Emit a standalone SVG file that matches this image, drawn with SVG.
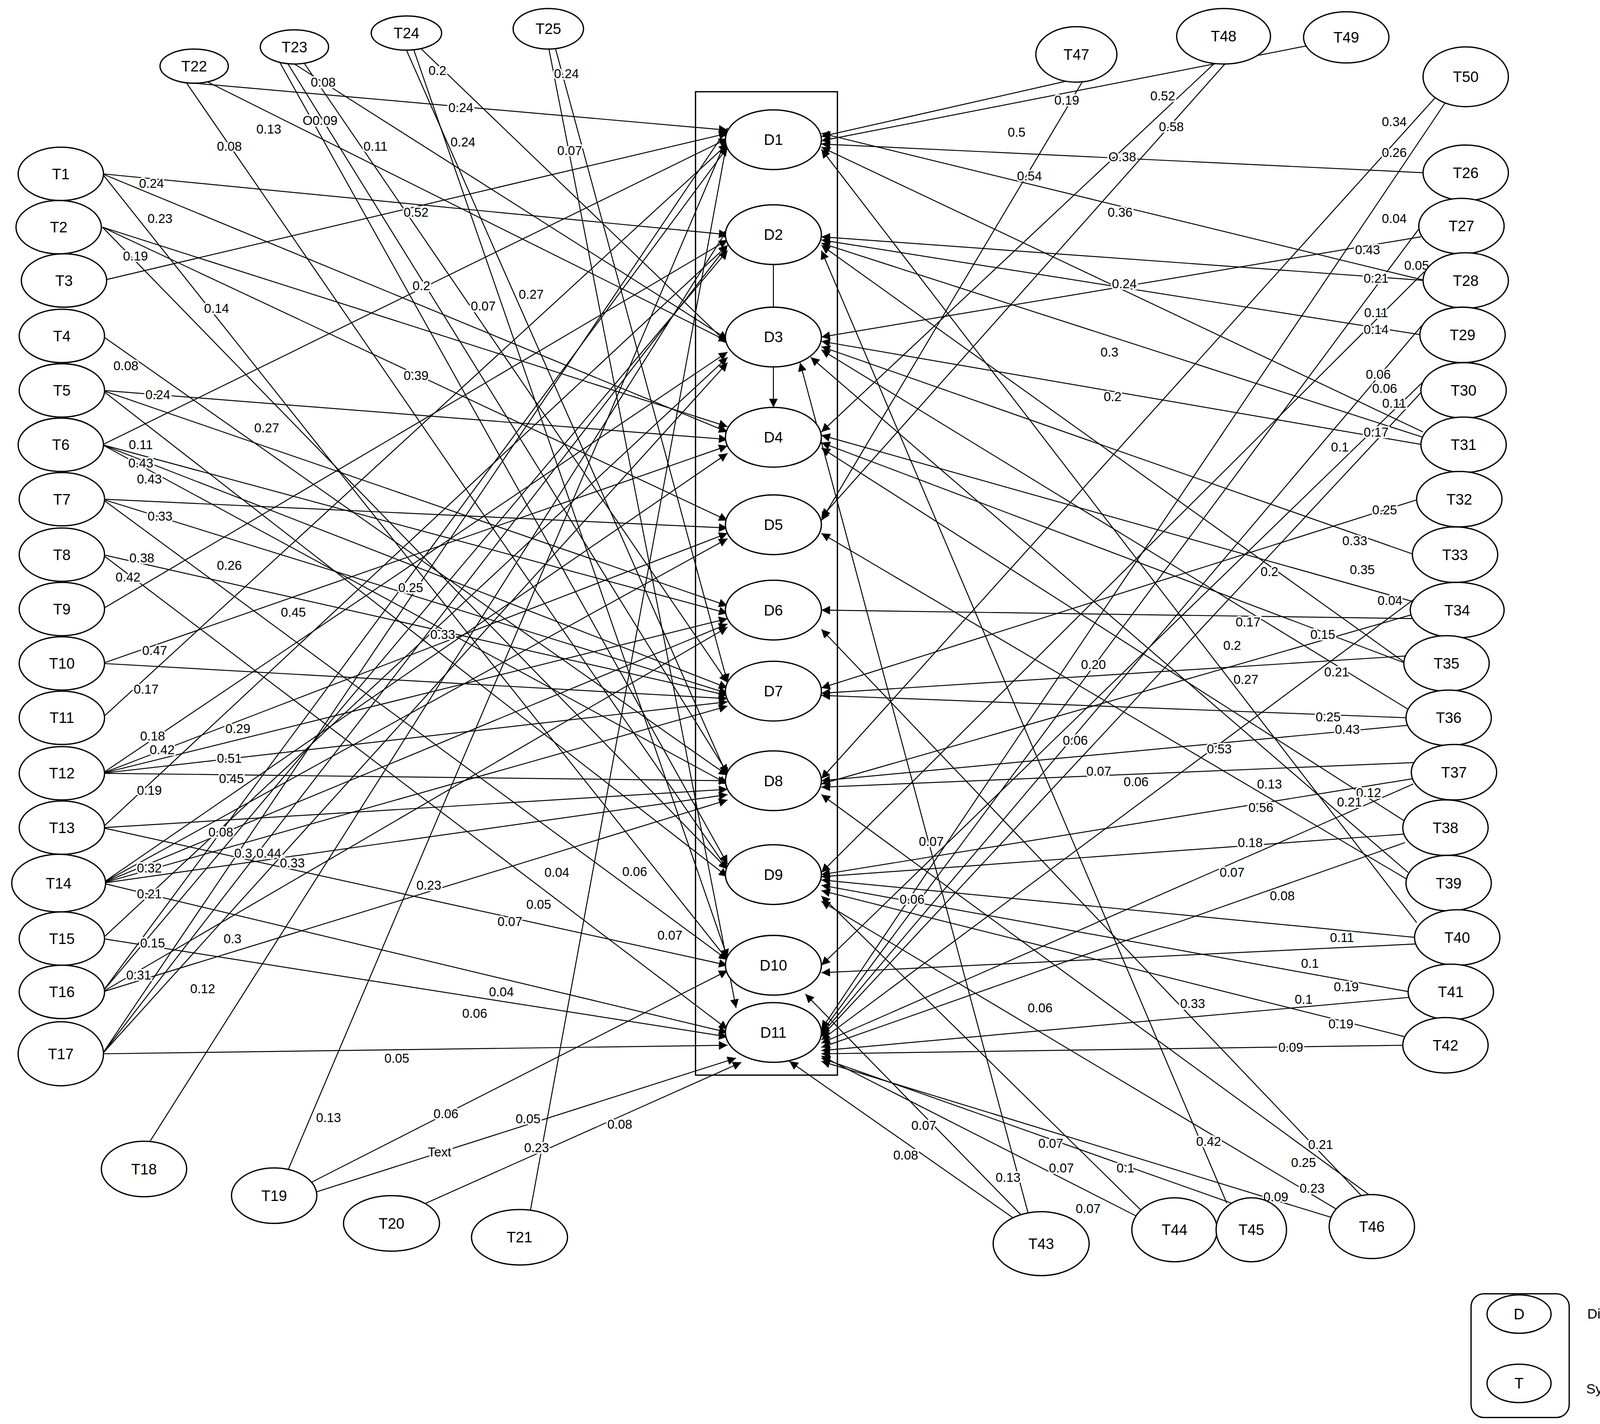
<svg xmlns="http://www.w3.org/2000/svg" width="4282" height="3646" viewBox="0 0 4282 3646">
<style>
.n{fill:#fff;stroke:#000;stroke-width:1.2}
.t{font-family:"Liberation Sans",Arial,sans-serif;font-size:14px;text-anchor:middle;dominant-baseline:central;fill:#000}
.g{font-family:"Liberation Sans",Arial,sans-serif;font-size:13px;dominant-baseline:central;fill:#000}
.l{font-family:"Liberation Sans",Arial,sans-serif;font-size:12px;text-anchor:middle;dominant-baseline:central;fill:#000;stroke:#fff;stroke-width:3px;paint-order:stroke}
#E line{stroke:#000;stroke-width:0.9;marker-end:url(#a)}
</style>
<defs><marker id="a" viewBox="0 0 10 10" refX="10" refY="5" markerWidth="9" markerHeight="9" orient="auto"><path d="M0,0L10,5L0,10z" fill="#000"/></marker></defs>
<rect width="4282" height="3646" fill="#fff"/>
<g transform="scale(2.7309)">
<rect x="652" y="86" width="133" height="922" fill="none" stroke="#000" stroke-width="1.2"/>
<g id="E">
<line x1="96" y1="163" x2="682" y2="220"/><line x1="96" y1="163" x2="682" y2="405"/><line x1="96" y1="163" x2="682" y2="900"/>
<line x1="96" y1="213" x2="682" y2="488"/><line x1="96" y1="213" x2="682" y2="400"/><line x1="96" y1="213" x2="682" y2="815"/>
<line x1="96" y1="263" x2="682" y2="125"/>
<line x1="96" y1="315" x2="682" y2="727"/>
<line x1="96" y1="366" x2="682" y2="412"/><line x1="96" y1="366" x2="682" y2="822"/><line x1="96" y1="366" x2="682" y2="568"/>
<line x1="96" y1="417" x2="682" y2="130"/><line x1="96" y1="417" x2="682" y2="735"/><line x1="96" y1="417" x2="682" y2="575"/><line x1="96" y1="417" x2="682" y2="645"/>
<line x1="96" y1="468" x2="682" y2="495"/><line x1="96" y1="468" x2="682" y2="650"/><line x1="96" y1="468" x2="682" y2="900"/>
<line x1="96" y1="520" x2="682" y2="652"/><line x1="96" y1="520" x2="682" y2="965"/>
<line x1="96" y1="571" x2="682" y2="225"/>
<line x1="96" y1="622" x2="682" y2="418"/><line x1="96" y1="622" x2="682" y2="655"/>
<line x1="96" y1="673" x2="682" y2="135"/>
<line x1="96" y1="725" x2="682" y2="330"/><line x1="96" y1="725" x2="682" y2="580"/><line x1="96" y1="725" x2="682" y2="500"/><line x1="96" y1="725" x2="682" y2="658"/><line x1="96" y1="725" x2="682" y2="732"/>
<line x1="96" y1="776" x2="682" y2="230"/><line x1="96" y1="776" x2="682" y2="905"/><line x1="96" y1="776" x2="682" y2="740"/>
<line x1="96" y1="828" x2="682" y2="745"/><line x1="96" y1="828" x2="682" y2="662"/><line x1="96" y1="828" x2="682" y2="585"/><line x1="96" y1="828" x2="682" y2="968"/><line x1="96" y1="828" x2="682" y2="505"/><line x1="96" y1="828" x2="682" y2="425"/>
<line x1="96" y1="880" x2="682" y2="335"/><line x1="96" y1="880" x2="682" y2="972"/>
<line x1="96" y1="930" x2="682" y2="138"/><line x1="96" y1="930" x2="682" y2="588"/><line x1="96" y1="930" x2="682" y2="750"/><line x1="96" y1="930" x2="682" y2="235"/>
<line x1="96" y1="988" x2="682" y2="980"/><line x1="96" y1="988" x2="682" y2="120"/><line x1="96" y1="988" x2="682" y2="230"/><line x1="96" y1="988" x2="682" y2="340"/>
<line x1="140" y1="1071" x2="682" y2="215"/>
<line x1="270" y1="1097" x2="682" y2="128"/><line x1="285" y1="1112" x2="682" y2="910"/><line x1="295" y1="1118" x2="690" y2="992"/>
<line x1="395" y1="1130" x2="695" y2="996"/>
<line x1="497" y1="1136" x2="682" y2="130"/>
<line x1="182" y1="78" x2="682" y2="122"/><line x1="195" y1="77" x2="682" y2="320"/><line x1="175" y1="78" x2="682" y2="815"/>
<line x1="276" y1="60" x2="682" y2="318"/><line x1="270" y1="60" x2="682" y2="725"/><line x1="285" y1="59" x2="682" y2="640"/><line x1="262" y1="58" x2="682" y2="810"/>
<line x1="395" y1="46" x2="682" y2="322"/><line x1="381" y1="47" x2="682" y2="728"/><line x1="388" y1="47" x2="682" y2="898"/>
<line x1="520" y1="43" x2="682" y2="640"/><line x1="514" y1="43" x2="690" y2="945"/>
<line x1="1000" y1="76" x2="770" y2="128"/><line x1="1015" y1="76" x2="770" y2="488"/>
<line x1="1140" y1="58" x2="770" y2="405"/><line x1="1150" y1="58" x2="770" y2="485"/>
<line x1="1230" y1="42" x2="770" y2="132"/>
<line x1="1345" y1="92" x2="770" y2="730"/><line x1="1355" y1="96" x2="770" y2="965"/>
<line x1="1336" y1="162" x2="770" y2="135"/>
<line x1="1332" y1="212" x2="770" y2="968"/><line x1="1332" y1="222" x2="770" y2="316"/>
<line x1="1336" y1="263" x2="770" y2="222"/><line x1="1336" y1="263" x2="770" y2="125"/><line x1="1340" y1="250" x2="770" y2="818"/>
<line x1="1333" y1="314" x2="770" y2="225"/><line x1="1333" y1="305" x2="770" y2="970"/>
<line x1="1334" y1="366" x2="770" y2="972"/><line x1="1334" y1="358" x2="770" y2="905"/>
<line x1="1334" y1="417" x2="770" y2="320"/><line x1="1334" y1="410" x2="770" y2="228"/><line x1="1334" y1="405" x2="770" y2="138"/>
<line x1="1330" y1="468" x2="770" y2="645"/>
<line x1="1326" y1="520" x2="770" y2="325"/>
<line x1="1328" y1="580" x2="770" y2="572"/><line x1="1328" y1="575" x2="770" y2="735"/><line x1="1328" y1="565" x2="770" y2="408"/><line x1="1328" y1="560" x2="770" y2="975"/>
<line x1="1318" y1="622" x2="770" y2="230"/><line x1="1318" y1="622" x2="770" y2="415"/><line x1="1318" y1="615" x2="770" y2="650"/>
<line x1="1320" y1="673" x2="770" y2="652"/><line x1="1320" y1="680" x2="770" y2="732"/><line x1="1320" y1="665" x2="770" y2="328"/>
<line x1="1325" y1="730" x2="770" y2="820"/><line x1="1325" y1="735" x2="770" y2="978"/><line x1="1325" y1="715" x2="770" y2="738"/>
<line x1="1317" y1="782" x2="770" y2="822"/><line x1="1317" y1="770" x2="770" y2="420"/><line x1="1317" y1="790" x2="770" y2="982"/>
<line x1="1320" y1="825" x2="770" y2="500"/><line x1="1320" y1="818" x2="760" y2="335"/>
<line x1="1328" y1="879" x2="770" y2="825"/><line x1="1328" y1="885" x2="770" y2="912"/><line x1="1328" y1="865" x2="770" y2="140"/>
<line x1="1322" y1="930" x2="770" y2="830"/><line x1="1322" y1="935" x2="770" y2="985"/>
<line x1="1317" y1="980" x2="770" y2="988"/><line x1="1317" y1="972" x2="770" y2="835"/>
<line x1="950" y1="1142" x2="740" y2="995"/><line x1="960" y1="1142" x2="755" y2="932"/><line x1="965" y1="1142" x2="750" y2="340"/>
<line x1="1070" y1="1135" x2="770" y2="840"/><line x1="1065" y1="1140" x2="770" y2="990"/>
<line x1="1150" y1="1128" x2="770" y2="235"/><line x1="1160" y1="1130" x2="770" y2="992"/>
<line x1="1280" y1="1125" x2="770" y2="590"/><line x1="1255" y1="1135" x2="770" y2="845"/><line x1="1250" y1="1142" x2="770" y2="995"/><line x1="1290" y1="1125" x2="770" y2="745"/>
<line x1="725" y1="344" x2="725" y2="382"/>
</g>
<line x1="725" y1="248" x2="725" y2="288" stroke="#000" stroke-width="0.9"/>
<g id="labels">
<text class="l" x="142" y="172">0.24</text><text class="l" x="150" y="205">0.23</text><text class="l" x="505" y="848">0.05</text>
<text class="l" x="203" y="289">0.14</text><text class="l" x="127" y="240">0.19</text><text class="l" x="522" y="818">0.04</text>
<text class="l" x="390" y="199">0.52</text><text class="l" x="118" y="343">0.08</text><text class="l" x="148" y="370">0.24</text>
<text class="l" x="595" y="817">0.06</text><text class="l" x="250" y="401">0.27</text><text class="l" x="395" y="268">0.2</text>
<text class="l" x="132" y="417">0.11</text><text class="l" x="132" y="434">0.43</text><text class="l" x="140" y="449">0.43</text>
<text class="l" x="150" y="484">0.33</text><text class="l" x="215" y="530">0.26</text><text class="l" x="133" y="523">0.38</text>
<text class="l" x="120" y="541">0.42</text><text class="l" x="628" y="877">0.07</text><text class="l" x="390" y="352">0.39</text>
<text class="l" x="145" y="610">0.47</text><text class="l" x="275" y="574">0.45</text><text class="l" x="137" y="646">0.17</text>
<text class="l" x="143" y="690">0.18</text><text class="l" x="152" y="703">0.42</text><text class="l" x="223" y="683">0.29</text>
<text class="l" x="215" y="711">0.51</text><text class="l" x="217" y="730">0.45</text><text class="l" x="140" y="741">0.19</text>
<text class="l" x="478" y="864">0.07</text><text class="l" x="207" y="780">0.08</text><text class="l" x="274" y="809">0.33</text>
<text class="l" x="252" y="800">0.44</text><text class="l" x="228" y="800">0.3</text><text class="l" x="470" y="930">0.04</text>
<text class="l" x="140" y="814">0.32</text><text class="l" x="140" y="838">0.21</text><text class="l" x="445" y="950">0.06</text>
<text class="l" x="143" y="884">0.15</text><text class="l" x="218" y="880">0.3</text><text class="l" x="130" y="914">0.31</text>
<text class="l" x="372" y="992">0.05</text><text class="l" x="190" y="927">0.12</text><text class="l" x="402" y="830">0.23</text>
<text class="l" x="385" y="551">0.25</text><text class="l" x="415" y="595">0.33</text>
<text class="l" x="308" y="1048">0.13</text><text class="l" x="418" y="1044">0.06</text><text class="l" x="412" y="1080">Text</text>
<text class="l" x="495" y="1049">0.05</text><text class="l" x="581" y="1054">0.08</text><text class="l" x="503" y="1076">0.23</text>
<text class="l" x="432" y="101">0.24</text><text class="l" x="252" y="121">0.13</text><text class="l" x="215" y="137">0.08</text>
<text class="l" x="303" y="77">0.08</text><text class="l" x="300" y="113">O0.09</text><text class="l" x="352" y="137">0.11</text>
<text class="l" x="453" y="287">0.07</text><text class="l" x="410" y="66">0.2</text><text class="l" x="434" y="133">0.24</text>
<text class="l" x="498" y="276">0.27</text><text class="l" x="531" y="69">0.24</text><text class="l" x="534" y="141">0.07</text>
<text class="l" x="953" y="124">0.5</text><text class="l" x="965" y="165">0.54</text><text class="l" x="1090" y="90">0.52</text>
<text class="l" x="1098" y="119">0.58</text><text class="l" x="1000" y="94">0.19</text><text class="l" x="1307" y="114">0.34</text>
<text class="l" x="1307" y="143">0.26</text><text class="l" x="1052" y="147">O.38</text><text class="l" x="1307" y="205">0.04</text>
<text class="l" x="1282" y="234">0.43</text><text class="l" x="1290" y="261">0.21</text><text class="l" x="1050" y="199">0.36</text>
<text class="l" x="1328" y="249">0.05</text><text class="l" x="1290" y="309">0.14</text><text class="l" x="1290" y="293">0.11</text>
<text class="l" x="1292" y="351">0.06</text><text class="l" x="1298" y="364">0.06</text><text class="l" x="1256" y="419">0.1</text>
<text class="l" x="1054" y="266">0.24</text><text class="l" x="1290" y="405">0.17</text><text class="l" x="1307" y="378">0.11</text>
<text class="l" x="1298" y="478">0.25</text><text class="l" x="1270" y="507">0.33</text><text class="l" x="1170" y="583">0.17</text>
<text class="l" x="1240" y="595">0.15</text><text class="l" x="1277" y="534">0.35</text><text class="l" x="1303" y="563">0.04</text>
<text class="l" x="1040" y="330">0.3</text><text class="l" x="1253" y="630">0.21</text><text class="l" x="1155" y="605">0.2</text>
<text class="l" x="1245" y="672">0.25</text><text class="l" x="1263" y="684">0.43</text><text class="l" x="1043" y="372">0.2</text>
<text class="l" x="1283" y="743">0.12</text><text class="l" x="1155" y="818">0.07</text><text class="l" x="1143" y="702">0.53</text>
<text class="l" x="1172" y="790">0.18</text><text class="l" x="1265" y="752">0.21</text><text class="l" x="1202" y="840">0.08</text>
<text class="l" x="1190" y="735">0.13</text><text class="l" x="1182" y="757">0.56</text><text class="l" x="1258" y="879">0.11</text>
<text class="l" x="1228" y="903">0.1</text><text class="l" x="1190" y="536">0.2</text><text class="l" x="1262" y="925">0.19</text>
<text class="l" x="1222" y="937">0.1</text><text class="l" x="1210" y="982">0.09</text><text class="l" x="1257" y="960">0.19</text>
<text class="l" x="849" y="1083">0.08</text><text class="l" x="866" y="1055">0.07</text><text class="l" x="945" y="1104">0.13</text>
<text class="l" x="985" y="1072">0.07</text><text class="l" x="1020" y="1133">0.07</text><text class="l" x="995" y="1095">0.07</text>
<text class="l" x="1133" y="1070">0.42</text><text class="l" x="1055" y="1095">0.1</text><text class="l" x="1238" y="1073">0.21</text>
<text class="l" x="1222" y="1090">0.25</text><text class="l" x="1196" y="1122">0.09</text><text class="l" x="1230" y="1114">0.23</text>
<text class="l" x="873" y="789">0.07</text><text class="l" x="855" y="843">0.06</text><text class="l" x="1118" y="941">0.33</text>
<text class="l" x="975" y="945">0.06</text><text class="l" x="1025" y="623">0.20</text><text class="l" x="1168" y="637">0.27</text>
<text class="l" x="1008" y="694">0.06</text><text class="l" x="1030" y="723">0.07</text><text class="l" x="1065" y="733">0.06</text>
</g>
<g id="D1"><ellipse class="n" cx="725" cy="131" rx="45" ry="28"/><text class="t" x="725" y="131">D1</text></g>
<g id="D2"><ellipse class="n" cx="725" cy="220" rx="45" ry="28"/><text class="t" x="725" y="220">D2</text></g>
<g id="D3"><ellipse class="n" cx="725" cy="316" rx="45" ry="28"/><text class="t" x="725" y="316">D3</text></g>
<g id="D4"><ellipse class="n" cx="725" cy="410" rx="45" ry="28"/><text class="t" x="725" y="410">D4</text></g>
<g id="D5"><ellipse class="n" cx="725" cy="492" rx="45" ry="28"/><text class="t" x="725" y="492">D5</text></g>
<g id="D6"><ellipse class="n" cx="725" cy="572" rx="45" ry="28"/><text class="t" x="725" y="572">D6</text></g>
<g id="D7"><ellipse class="n" cx="725" cy="648" rx="45" ry="28"/><text class="t" x="725" y="648">D7</text></g>
<g id="D8"><ellipse class="n" cx="725" cy="732" rx="45" ry="28"/><text class="t" x="725" y="732">D8</text></g>
<g id="D9"><ellipse class="n" cx="725" cy="820" rx="45" ry="28"/><text class="t" x="725" y="820">D9</text></g>
<g id="D10"><ellipse class="n" cx="725" cy="905" rx="45" ry="28"/><text class="t" x="725" y="905">D10</text></g>
<g id="D11"><ellipse class="n" cx="725" cy="968" rx="45" ry="28"/><text class="t" x="725" y="968">D11</text></g>
<g id="T1"><ellipse class="n" cx="57" cy="163" rx="40" ry="25"/><text class="t" x="57" y="163">T1</text></g>
<g id="T2"><ellipse class="n" cx="55" cy="213" rx="40" ry="25"/><text class="t" x="55" y="213">T2</text></g>
<g id="T3"><ellipse class="n" cx="60" cy="263" rx="40" ry="25"/><text class="t" x="60" y="263">T3</text></g>
<g id="T4"><ellipse class="n" cx="58" cy="315" rx="40" ry="25"/><text class="t" x="58" y="315">T4</text></g>
<g id="T5"><ellipse class="n" cx="58" cy="366" rx="40" ry="25"/><text class="t" x="58" y="366">T5</text></g>
<g id="T6"><ellipse class="n" cx="57" cy="417" rx="40" ry="25"/><text class="t" x="57" y="417">T6</text></g>
<g id="T7"><ellipse class="n" cx="58" cy="468" rx="40" ry="25"/><text class="t" x="58" y="468">T7</text></g>
<g id="T8"><ellipse class="n" cx="58" cy="520" rx="40" ry="25"/><text class="t" x="58" y="520">T8</text></g>
<g id="T9"><ellipse class="n" cx="58" cy="571" rx="40" ry="25"/><text class="t" x="58" y="571">T9</text></g>
<g id="T10"><ellipse class="n" cx="58" cy="622" rx="40" ry="25"/><text class="t" x="58" y="622">T10</text></g>
<g id="T11"><ellipse class="n" cx="58" cy="673" rx="40" ry="25"/><text class="t" x="58" y="673">T11</text></g>
<g id="T12"><ellipse class="n" cx="58" cy="725" rx="40" ry="25"/><text class="t" x="58" y="725">T12</text></g>
<g id="T13"><ellipse class="n" cx="58" cy="776" rx="40" ry="25"/><text class="t" x="58" y="776">T13</text></g>
<g id="T14"><ellipse class="n" cx="55" cy="828" rx="44" ry="27"/><text class="t" x="55" y="828">T14</text></g>
<g id="T15"><ellipse class="n" cx="58" cy="880" rx="40" ry="25"/><text class="t" x="58" y="880">T15</text></g>
<g id="T16"><ellipse class="n" cx="58" cy="930" rx="40" ry="25"/><text class="t" x="58" y="930">T16</text></g>
<g id="T17"><ellipse class="n" cx="57" cy="988" rx="40" ry="30"/><text class="t" x="57" y="988">T17</text></g>
<g id="T18"><ellipse class="n" cx="135" cy="1096" rx="40" ry="26"/><text class="t" x="135" y="1096">T18</text></g>
<g id="T19"><ellipse class="n" cx="257" cy="1121" rx="40" ry="26"/><text class="t" x="257" y="1121">T19</text></g>
<g id="T20"><ellipse class="n" cx="367" cy="1147" rx="45" ry="26"/><text class="t" x="367" y="1147">T20</text></g>
<g id="T21"><ellipse class="n" cx="487" cy="1160" rx="45" ry="26"/><text class="t" x="487" y="1160">T21</text></g>
<g id="T22"><ellipse class="n" cx="182" cy="62" rx="32" ry="16"/><text class="t" x="182" y="62">T22</text></g>
<g id="T23"><ellipse class="n" cx="276" cy="44" rx="32" ry="16"/><text class="t" x="276" y="44">T23</text></g>
<g id="T24"><ellipse class="n" cx="381" cy="31" rx="33" ry="16"/><text class="t" x="381" y="31">T24</text></g>
<g id="T25"><ellipse class="n" cx="514" cy="27" rx="33" ry="19"/><text class="t" x="514" y="27">T25</text></g>
<g id="T47"><ellipse class="n" cx="1009" cy="51" rx="38" ry="26"/><text class="t" x="1009" y="51">T47</text></g>
<g id="T48"><ellipse class="n" cx="1147" cy="34" rx="44" ry="26"/><text class="t" x="1147" y="34">T48</text></g>
<g id="T49"><ellipse class="n" cx="1262" cy="35" rx="40" ry="24"/><text class="t" x="1262" y="35">T49</text></g>
<g id="T50"><ellipse class="n" cx="1374" cy="72" rx="40" ry="28"/><text class="t" x="1374" y="72">T50</text></g>
<g id="T26"><ellipse class="n" cx="1374" cy="162" rx="40" ry="26"/><text class="t" x="1374" y="162">T26</text></g>
<g id="T27"><ellipse class="n" cx="1370" cy="212" rx="40" ry="26"/><text class="t" x="1370" y="212">T27</text></g>
<g id="T28"><ellipse class="n" cx="1374" cy="263" rx="40" ry="26"/><text class="t" x="1374" y="263">T28</text></g>
<g id="T29"><ellipse class="n" cx="1371" cy="314" rx="40" ry="26"/><text class="t" x="1371" y="314">T29</text></g>
<g id="T30"><ellipse class="n" cx="1372" cy="366" rx="40" ry="26"/><text class="t" x="1372" y="366">T30</text></g>
<g id="T31"><ellipse class="n" cx="1372" cy="417" rx="40" ry="26"/><text class="t" x="1372" y="417">T31</text></g>
<g id="T32"><ellipse class="n" cx="1368" cy="468" rx="40" ry="26"/><text class="t" x="1368" y="468">T32</text></g>
<g id="T33"><ellipse class="n" cx="1364" cy="520" rx="40" ry="26"/><text class="t" x="1364" y="520">T33</text></g>
<g id="T34"><ellipse class="n" cx="1366" cy="572" rx="44" ry="26"/><text class="t" x="1366" y="572">T34</text></g>
<g id="T35"><ellipse class="n" cx="1356" cy="622" rx="40" ry="26"/><text class="t" x="1356" y="622">T35</text></g>
<g id="T36"><ellipse class="n" cx="1358" cy="673" rx="40" ry="26"/><text class="t" x="1358" y="673">T36</text></g>
<g id="T37"><ellipse class="n" cx="1363" cy="724" rx="40" ry="26"/><text class="t" x="1363" y="724">T37</text></g>
<g id="T38"><ellipse class="n" cx="1355" cy="776" rx="40" ry="26"/><text class="t" x="1355" y="776">T38</text></g>
<g id="T39"><ellipse class="n" cx="1358" cy="828" rx="40" ry="26"/><text class="t" x="1358" y="828">T39</text></g>
<g id="T40"><ellipse class="n" cx="1366" cy="879" rx="40" ry="26"/><text class="t" x="1366" y="879">T40</text></g>
<g id="T41"><ellipse class="n" cx="1360" cy="930" rx="40" ry="26"/><text class="t" x="1360" y="930">T41</text></g>
<g id="T42"><ellipse class="n" cx="1355" cy="980" rx="40" ry="26"/><text class="t" x="1355" y="980">T42</text></g>
<g id="T43"><ellipse class="n" cx="976" cy="1166" rx="45" ry="30"/><text class="t" x="976" y="1166">T43</text></g>
<g id="T44"><ellipse class="n" cx="1101" cy="1153" rx="40" ry="30"/><text class="t" x="1101" y="1153">T44</text></g>
<g id="T45"><ellipse class="n" cx="1173" cy="1153" rx="33" ry="30"/><text class="t" x="1173" y="1153">T45</text></g>
<g id="T46"><ellipse class="n" cx="1286" cy="1150" rx="40" ry="30"/><text class="t" x="1286" y="1150">T46</text></g>
<g id="legend">
<rect x="1379" y="1213" width="92" height="116" rx="12" fill="#fff" stroke="#000" stroke-width="1.2"/>
<ellipse class="n" cx="1424" cy="1232" rx="30" ry="18"/><text class="t" x="1424" y="1232">D</text>
<ellipse class="n" cx="1424" cy="1297" rx="30" ry="18"/><text class="t" x="1424" y="1297">T</text>
<text class="g" x="1488" y="1232">Disease</text><text class="g" x="1487" y="1302">Symptoms</text>
</g>
</g>
</svg>
